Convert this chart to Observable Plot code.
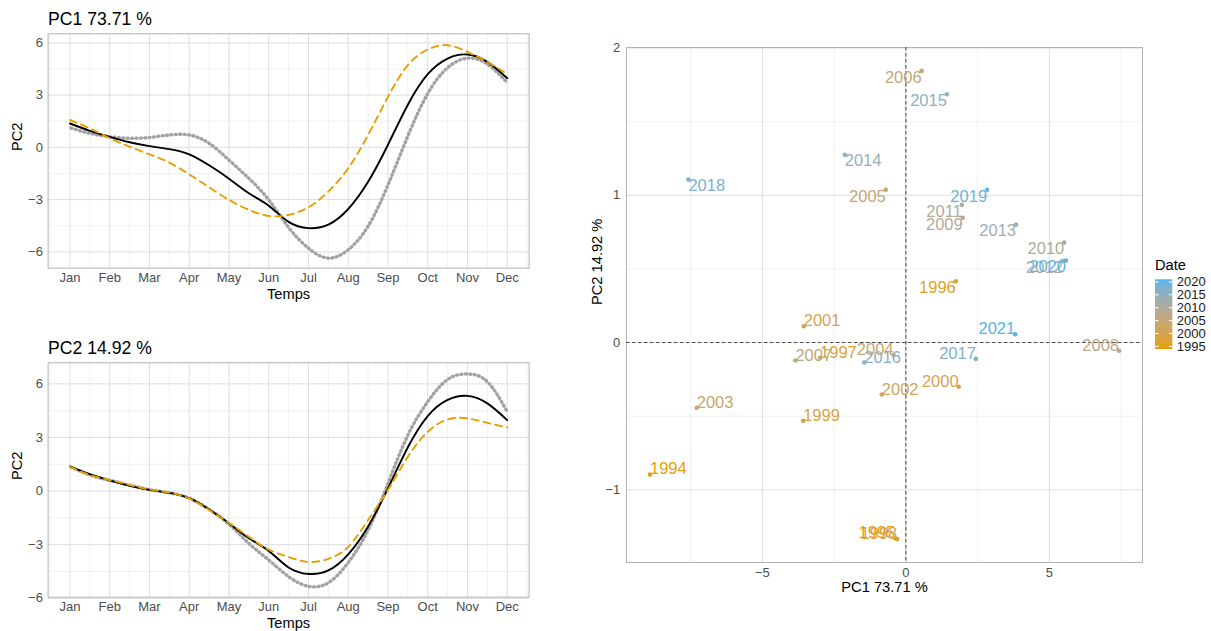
<!DOCTYPE html>
<html>
<head>
<meta charset="utf-8">
<script src="https://cdn.jsdelivr.net/npm/d3@7"></script>
<script src="https://cdn.jsdelivr.net/npm/@observablehq/plot@0.6"></script>
<style>
  html, body { margin: 0; padding: 0; background: #ffffff; }
  #root { position: relative; width: 1211px; height: 631px; overflow: hidden; background: #ffffff;
          font-family: "Liberation Sans", Arial, Helvetica, sans-serif; }
  #root > svg { position: absolute; overflow: visible; }
  #root svg g[aria-label$="tick label"] text { font-size: 13px !important; }
</style>
</head>
<body>
<div id="root"></div>
<script>
// ---------------- data ----------------
const mois = ["Jan", "Feb", "Mar", "Apr", "May", "Jun", "Jul", "Aug", "Sep", "Oct", "Nov", "Dec"];
const temps = [1, 1.5, 2, 2.5, 3, 3.5, 4, 4.5, 5, 5.5, 6, 6.5, 7, 7.5, 8, 8.5, 9, 9.5, 10, 10.5, 11, 11.5, 12];

// mean curve (black)
const moyenne = [1.37, 0.95, 0.60, 0.29, 0.07, -0.10, -0.40, -1.03, -1.80, -2.64, -3.35, -4.28, -4.64, -4.44, -3.54, -1.98, 0.15, 2.45, 4.20, 5.10, 5.33, 4.91, 3.97];
// PC1 panel: orange dashed / grey "+"
const pc1Orange = [1.57, 1.09, 0.52, 0.04, -0.40, -0.88, -1.55, -2.29, -3.02, -3.59, -3.94, -3.88, -3.44, -2.54, -1.20, 0.71, 2.90, 4.72, 5.62, 5.86, 5.48, 4.91, 4.20];
const pc1Gris   = [1.13, 0.80, 0.61, 0.52, 0.57, 0.71, 0.71, 0.23, -0.73, -1.78, -3.02, -4.60, -5.79, -6.36, -5.88, -4.53, -2.16, 0.65, 3.09, 4.57, 5.12, 4.78, 3.71];
// PC2 panel: orange dashed / grey "+"
const pc2Orange = [1.36, 0.90, 0.62, 0.34, 0.09, -0.09, -0.41, -1.06, -1.78, -2.56, -3.28, -3.69, -3.97, -3.79, -3.12, -1.62, 0.06, 1.92, 3.32, 4.01, 4.07, 3.82, 3.56];
const pc2Gris   = [1.38, 0.90, 0.60, 0.33, 0.08, -0.10, -0.40, -1.02, -1.85, -2.93, -3.86, -4.79, -5.33, -5.13, -4.00, -2.18, 0.43, 3.13, 5.00, 6.25, 6.55, 6.12, 4.44];

// individual scores
const annees    = [1994, 1995, 1996, 1997, 1998, 1999, 2000, 2001, 2002, 2003, 2004, 2005, 2006, 2007,
                   2008, 2009, 2010, 2011, 2012, 2013, 2014, 2015, 2016, 2017, 2018, 2019, 2020, 2021];
const pc1Scores = [-8.92, -0.37, 1.74, -2.99, -0.30, -3.58, 1.84, -3.56, -0.84, -7.29, -0.43, -0.70, 0.55, -3.85,
                   7.43, 1.98, 5.52, 1.95, 5.47, 3.84, -2.13, 1.43, -1.45, 2.44, -7.58, 2.83, 5.58, 3.81];
const pc2Scores = [-0.896, -1.330, 0.416, -0.104, -1.335, -0.532, -0.300, 0.111, -0.353, -0.443, -0.085, 1.037, 1.845, -0.122,
                   -0.056, 0.847, 0.679, 0.935, 0.553, 0.801, 1.276, 1.686, -0.136, -0.111, 1.107, 1.037, 0.557, 0.056];

// tick labels / breaks
const curveYTicks = [-6, -3, 0, 3, 6];
const curveYMinor = [-4.5, -1.5, 1.5, 4.5];
const scoreXTicks = [-5, 0, 5];
const scoreXMinor = [-7.5, -2.5, 2.5, 7.5];
const scoreYTicks = [-1, 0, 1, 2];
const scoreYMinor = [-0.5, 0.5, 1.5];
const legendTicks = [1995, 2000, 2005, 2010, 2015, 2020];

// ---------------- style ----------------
const FONT = '"Liberation Sans", Arial, Helvetica, sans-serif';
const GRID_MAJ = "#dedede", GRID_MIN = "#ebebeb", BORDER = "#b3b3b3", TICK_TXT = "#4d4d4d";
const ORANGE = "#E69F00", BLUE = "#56B4E9", GRIS = "#a2a2a2";
const TICK_FS = 13;
const minus = d => (d < 0 ? "\u2212" + Math.abs(d) : String(d));
const root = document.getElementById("root");

function place(svg, left, top) {
  svg.querySelectorAll('g[aria-label$="tick label"]').forEach(g => {
    g.setAttribute("font-size", TICK_FS);
    g.querySelectorAll("text").forEach(t => { t.setAttribute("font-size", TICK_FS); t.style.fontSize = TICK_FS + "px"; });
  });
  svg.style.left = left + "px";
  svg.style.top = top + "px";
  root.appendChild(svg);
}

// ---------------- curve panels ----------------
const moisPos = mois.map((_, i) => i + 1);
const moisMinor = [...moisPos.map(d => d - 0.5), 12.5];

function curvePanel(title, orange, gris, yDomain) {
  const rows = temps.map((t, i) => ({t, m: moyenne[i], o: orange[i], g: gris[i]}));
  return Plot.plot({
    width: 540, height: 310,
    marginLeft: 47.6, marginRight: 11.4, marginTop: 33.3, marginBottom: 42.3,
    style: {fontFamily: FONT, fontSize: TICK_FS + "px", background: "transparent", overflow: "visible"},
    x: {domain: [0.45, 12.55], label: null},
    y: {domain: yDomain, label: null},
    marks: [
      Plot.ruleX(moisMinor, {stroke: GRID_MIN, strokeWidth: 0.7}),
      Plot.ruleY(curveYMinor, {stroke: GRID_MIN, strokeWidth: 0.7}),
      Plot.ruleX(moisPos, {stroke: GRID_MAJ, strokeWidth: 1}),
      Plot.ruleY(curveYTicks, {stroke: GRID_MAJ, strokeWidth: 1}),
      // grey "+" curve: short bars along the path crossed by short perpendicular ticks
      Plot.line(rows, {x: "t", y: "g", stroke: GRIS, strokeWidth: 0.8, strokeDasharray: "3.2,1.2", curve: "natural"}),
      Plot.line(rows, {x: "t", y: "g", stroke: GRIS, strokeWidth: 3.4, strokeDasharray: "0.85,3.55", strokeDashoffset: -1.2, curve: "natural"}),
      Plot.line(rows, {x: "t", y: "m", stroke: "#000000", strokeWidth: 1.9, curve: "natural"}),
      Plot.line(rows, {x: "t", y: "o", stroke: ORANGE, strokeWidth: 1.9, strokeDasharray: "7,5", curve: "natural"}),
      Plot.frame({stroke: BORDER, strokeWidth: 1}),
      Plot.axisX(moisPos, {tickFormat: i => mois[i - 1], tickSize: 0, tickPadding: 4.7, fill: TICK_TXT, fontSize: TICK_FS, label: null}),
      Plot.axisY(curveYTicks, {tickFormat: minus, tickSize: 0, tickPadding: 5.2, fill: TICK_TXT, fontSize: TICK_FS, label: null}),
      Plot.text([title], {text: d => d, frameAnchor: "top-left", lineAnchor: "middle", dy: -14.3, textAnchor: "start", fontSize: 17.6, fill: "#000"}),
      Plot.text(["Temps"], {text: d => d, frameAnchor: "bottom", lineAnchor: "middle", dy: 26.3, fontSize: 14.67, fill: "#000"}),
      Plot.text(["PC2"], {text: d => d, frameAnchor: "left", lineAnchor: "middle", dx: -30.4, rotate: -90, fontSize: 14.67, fill: "#000"})
    ]
  });
}

place(curvePanel("PC1 73.71 %", pc1Orange, pc1Gris, [-6.94, 6.52]), 0, 0);
place(curvePanel("PC2 14.92 %", pc2Orange, pc2Gris, [-5.94, 7.18]), 0, 329.4);

// ---------------- score plot ----------------
const scores = annees.map((a, i) => ({annee: a, pc1: pc1Scores[i], pc2: pc2Scores[i]}));
const expand = ([a, b]) => [a - (b - a) * 0.05, b + (b - a) * 0.05];
const xDom = expand(d3.extent(pc1Scores));
const yDom = expand(d3.extent(pc2Scores));
const xMid = (xDom[0] + xDom[1]) / 2, yMid = (yDom[0] + yDom[1]) / 2;
const colorDomain = d3.extent(annees);

// labels justified "inward" (towards the centre of the panel)
const labelMarks = [];
for (const h of ["start", "end"]) {
  for (const v of ["top", "bottom"]) {
    labelMarks.push(Plot.text(scores, {
      filter: d => ((d.pc1 < xMid) === (h === "start")) && ((d.pc2 > yMid) === (v === "top")),
      x: "pc1", y: "pc2", text: d => String(d.annee), fill: "annee",
      textAnchor: h, lineAnchor: v, fontSize: 16.5
    }));
  }
}

const scorePlot = Plot.plot({
  width: 600, height: 631,
  marginLeft: 66, marginRight: 18, marginTop: 47, marginBottom: 69,
  style: {fontFamily: FONT, fontSize: TICK_FS + "px", background: "transparent", overflow: "visible"},
  x: {domain: xDom, label: null},
  y: {domain: yDom, label: null},
  color: {type: "linear", domain: colorDomain, range: [ORANGE, BLUE], interpolate: "lab"},
  marks: [
    Plot.ruleX(scoreXMinor, {stroke: GRID_MIN, strokeWidth: 0.7}),
    Plot.ruleY(scoreYMinor, {stroke: GRID_MIN, strokeWidth: 0.7}),
    Plot.ruleX(scoreXTicks, {stroke: GRID_MAJ, strokeWidth: 1}),
    Plot.ruleY(scoreYTicks, {stroke: GRID_MAJ, strokeWidth: 1}),
    Plot.frame({stroke: BORDER, strokeWidth: 1}),
    Plot.ruleX([0], {stroke: "#4d4d4d", strokeWidth: 1.1, strokeDasharray: "3.5,2.5"}),
    Plot.ruleY([0], {stroke: "#4d4d4d", strokeWidth: 1.1, strokeDasharray: "3.5,2.5"}),
    Plot.dot(scores, {x: "pc1", y: "pc2", fill: "annee", r: 2.3}),
    ...labelMarks,
    Plot.axisX(scoreXTicks, {tickFormat: minus, tickSize: 0, tickPadding: 5, fill: TICK_TXT, fontSize: TICK_FS, label: null}),
    Plot.axisY(scoreYTicks, {tickFormat: minus, tickSize: 0, tickPadding: 6.2, fill: TICK_TXT, fontSize: TICK_FS, label: null}),
    Plot.text(["PC1 73.71 %"], {text: d => d, frameAnchor: "bottom", lineAnchor: "middle", dy: 25, fontSize: 14.67, fill: "#000"}),
    Plot.text(["PC2 14.92 %"], {text: d => d, frameAnchor: "left", lineAnchor: "middle", dx: -29, rotate: -90, fontSize: 14.67, fill: "#000"})
  ]
});
place(scorePlot, 560, 0);

// ---------------- colour bar legend ----------------
(function legend() {
  const col = d3.scaleLinear().domain(colorDomain).range([ORANGE, BLUE]).interpolate(d3.interpolateLab);
  const barX = 5, barY = 29.3, barW = 17.3, barH = 69.7;
  const yBar = d3.scaleLinear().domain(colorDomain).range([barY + barH, barY]);
  const svg = d3.create("svg").attr("width", 61).attr("height", 110)
    .style("font-family", FONT);
  const grad = svg.append("defs").append("linearGradient")
    .attr("id", "dateGrad").attr("x1", 0).attr("y1", 1).attr("x2", 0).attr("y2", 0);
  d3.range(0, 1.0001, 0.05).forEach(t => {
    grad.append("stop").attr("offset", t).attr("stop-color", col(colorDomain[0] + t * (colorDomain[1] - colorDomain[0])));
  });
  svg.append("text").attr("x", barX).attr("y", 15).attr("dy", "0.35em")
    .attr("font-size", 14.67).attr("fill", "#000").text("Date");
  svg.append("rect").attr("x", barX).attr("y", barY).attr("width", barW).attr("height", barH)
    .attr("fill", "url(#dateGrad)");
  const tl = barW / 5;
  for (const a of legendTicks) {
    const y = yBar(a);
    svg.append("line").attr("x1", barX).attr("x2", barX + tl).attr("y1", y).attr("y2", y)
      .attr("stroke", "#fff").attr("stroke-width", 1);
    svg.append("line").attr("x1", barX + barW - tl).attr("x2", barX + barW).attr("y1", y).attr("y2", y)
      .attr("stroke", "#fff").attr("stroke-width", 1);
    svg.append("text").attr("x", barX + barW + 4.4).attr("y", y).attr("dy", "0.35em")
      .attr("font-size", 13).attr("fill", "#1a1a1a").text(String(a));
  }
  place(svg.node(), 1150, 250);
})();
</script>
</body>
</html>
